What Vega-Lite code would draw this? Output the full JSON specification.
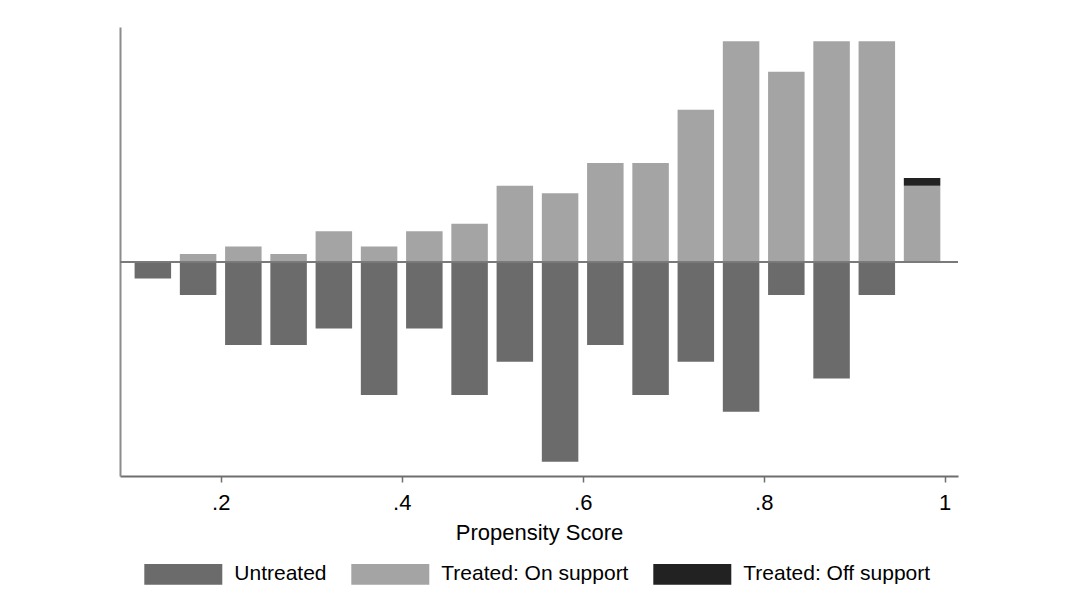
{
  "$schema": "https://vega.github.io/schema/vega-lite/v6.json",
  "width": 838,
  "height": 449,
  "autosize": "none",
  "padding": {"left": 120, "top": 27, "right": 107, "bottom": 122},
  "background": "white",
  "config": {
    "view": {"stroke": null},
    "font": "Liberation Sans",
    "axis": {"labelFont": "Liberation Sans", "titleFont": "Liberation Sans", "labelColor": "#000", "titleColor": "#000", "titleFontWeight": "normal"}
  },
  "data": {
    "values": [
      {"ps": 0.125, "group": "Untreated", "d": -16.7},
      {"ps": 0.175, "group": "Untreated", "d": -33.3},
      {"ps": 0.225, "group": "Untreated", "d": -83.3},
      {"ps": 0.275, "group": "Untreated", "d": -83.3},
      {"ps": 0.325, "group": "Untreated", "d": -66.7},
      {"ps": 0.375, "group": "Untreated", "d": -133.3},
      {"ps": 0.425, "group": "Untreated", "d": -66.7},
      {"ps": 0.475, "group": "Untreated", "d": -133.3},
      {"ps": 0.525, "group": "Untreated", "d": -100},
      {"ps": 0.575, "group": "Untreated", "d": -200},
      {"ps": 0.625, "group": "Untreated", "d": -83.3},
      {"ps": 0.675, "group": "Untreated", "d": -133.3},
      {"ps": 0.725, "group": "Untreated", "d": -100},
      {"ps": 0.775, "group": "Untreated", "d": -150},
      {"ps": 0.825, "group": "Untreated", "d": -33.3},
      {"ps": 0.875, "group": "Untreated", "d": -116.7},
      {"ps": 0.925, "group": "Untreated", "d": -33.3},
      {"ps": 0.175, "group": "Treated: On support", "d": 7.6},
      {"ps": 0.225, "group": "Treated: On support", "d": 15.2},
      {"ps": 0.275, "group": "Treated: On support", "d": 7.6},
      {"ps": 0.325, "group": "Treated: On support", "d": 30.4},
      {"ps": 0.375, "group": "Treated: On support", "d": 15.2},
      {"ps": 0.425, "group": "Treated: On support", "d": 30.4},
      {"ps": 0.475, "group": "Treated: On support", "d": 38},
      {"ps": 0.525, "group": "Treated: On support", "d": 76},
      {"ps": 0.575, "group": "Treated: On support", "d": 68.4},
      {"ps": 0.625, "group": "Treated: On support", "d": 98.8},
      {"ps": 0.675, "group": "Treated: On support", "d": 98.8},
      {"ps": 0.725, "group": "Treated: On support", "d": 152},
      {"ps": 0.775, "group": "Treated: On support", "d": 220.4},
      {"ps": 0.825, "group": "Treated: On support", "d": 190},
      {"ps": 0.875, "group": "Treated: On support", "d": 220.4},
      {"ps": 0.925, "group": "Treated: On support", "d": 220.4},
      {"ps": 0.975, "group": "Treated: On support", "d": 76},
      {"ps": 0.975, "group": "Treated: Off support", "d": 7.6}
    ]
  },
  "layer": [
    {
      "mark": {"type": "bar", "width": 36.5, "stroke": null},
      "encoding": {
        "x": {
          "field": "ps", "type": "quantitative",
          "scale": {"domain": [0.0887, 1.0147], "nice": false, "zero": false, "padding": 0},
          "axis": {
            "values": [0.2, 0.4, 0.6, 0.8, 1],
            "labelExpr": "datum.value == 1 ? '1' : replace(format(datum.value, '.1f'), '0.', '.')",
            "labelFontSize": 22, "labelPadding": 10, "labelFlush": false,
            "tickSize": 6, "tickColor": "#6e6e6e", "tickWidth": 1.5,
            "domainColor": "#6e6e6e", "domainWidth": 2, "grid": false,
            "title": "Propensity Score", "titleFontSize": 22, "titlePadding": 9
          }
        },
        "y": {
          "field": "d", "type": "quantitative", "stack": "zero",
          "scale": {"domain": [-214.3, 234.7], "nice": false, "zero": false},
          "axis": {"labels": false, "ticks": false, "grid": false, "title": null, "domainColor": "#8c8c8c", "domainWidth": 2}
        },
        "color": {
          "field": "group", "type": "nominal",
          "scale": {"domain": ["Untreated", "Treated: On support", "Treated: Off support"], "range": ["#6b6b6b", "#a4a4a4", "#222222"]},
          "legend": {
            "orient": "none", "legendX": 24.3, "legendY": 508, "direction": "horizontal", "title": null,
            "symbolType": "M-1,-0.265H1V0.265H-1Z", "symbolSize": 6084, "symbolStrokeWidth": 0, "symbolOpacity": 1,
            "labelFont": "Liberation Sans", "labelFontSize": 21, "labelColor": "#000", "labelOffset": 12,
            "columnPadding": 24, "padding": 0, "labelLimit": 400
          }
        },
        "order": {"field": "group", "sort": "descending"}
      }
    },
    {
      "mark": {"type": "rule", "color": "#7a7a7a", "strokeWidth": 1.5},
      "encoding": {"y": {"datum": 0}}
    }
  ]
}
